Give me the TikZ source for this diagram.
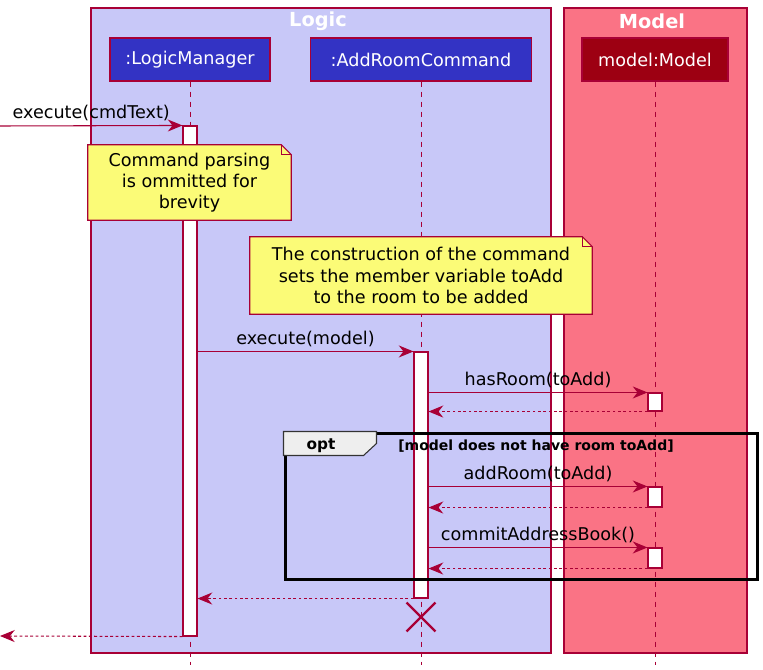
\documentclass[tikz,border=0pt]{standalone}
\usepackage{fontspec}
\setmainfont{DejaVu Sans}
\usetikzlibrary{positioning, arrows.meta, calc, shapes.misc}
\definecolor{bgLogic}{HTML}{C8C8F8}
\definecolor{bgModel}{HTML}{FA7385}
\definecolor{lineRed}{HTML}{A80036}
\definecolor{headBlue}{HTML}{3333C4}
\definecolor{headRed}{HTML}{9D0012}
\definecolor{noteYellow}{HTML}{FBFB77}
\definecolor{tabGray}{HTML}{EEEEEE}

\begin{document}
\begin{tikzpicture}[
    x=0.75pt, y=-0.75pt,
    font=\fontsize{13.2}{15.8}\selectfont,
    >={Stealth[length=11pt, width=9pt, inset=3.5pt]},
    groupBox/.style={draw=lineRed, line width=0.8pt},
    groupTitle/.style={text=white, font=\fontsize{14.5}{16}\selectfont\bfseries},
    head/.style={draw=lineRed, line width=0.8pt, text=white, minimum height=32.25pt, inner sep=0pt},
    lifeline/.style={draw=lineRed, line width=0.6pt, dash pattern=on 3.75pt off 3.75pt},
    actBox/.style={draw=lineRed, fill=white, line width=0.8pt, minimum width=10.5pt, inner sep=0pt},
    noteArea/.style={inner sep=0pt},
    noteLine/.style={draw=lineRed, fill=noteYellow, line width=0.8pt},
    noteText/.style={align=center, inner sep=0pt},
    msg/.style={->, draw=lineRed, line width=0.8pt},
    reply/.style={msg, dash pattern=on 2.2pt off 1.8pt},
    msgLabel/.style={above, inner sep=3pt}
]
\useasboundingbox (0,0) rectangle (763,670);

% groups
\node[groupBox, fill=bgLogic, minimum width=345pt, minimum height=483.75pt] (logic) at (321,330.5) {};
\node[groupBox, fill=bgModel, minimum width=137.25pt, minimum height=483.75pt] (model) at (655.5,330.5) {};
\node[groupTitle] (logicTitle) at (318,21) {Logic};
\node[groupTitle] (modelTitle) at (652,21) {Model};

% participants
\node[head, fill=headBlue, minimum width=120pt] (lm) at (190,59.5) {:LogicManager};
\node[head, fill=headBlue, minimum width=165.75pt] (arc) at (421,59.5) {:AddRoomCommand};
\node[head, fill=headRed, minimum width=109.5pt] (mdl) at (655,59.5) {model:Model};

\coordinate (bottom) at (0,665);
\draw[lifeline] (lm.south) -- (lm.south |- bottom);
\draw[lifeline] (arc.south) -- (arc.south |- bottom);
\draw[lifeline] (mdl.south) -- (mdl.south |- bottom);

% activations
\node[actBox, minimum height=382.5pt] (lmAct) at (190,381) {};
\node[actBox, minimum height=184.5pt] (arcAct) at (421,475) {};
\node[actBox, minimum height=13.5pt] (mAct1) at (655,402) {};
\node[actBox, minimum height=15pt] (mAct2) at (655,497) {};
\node[actBox, minimum height=15pt] (mAct3) at (655,558) {};

% notes
\node[noteArea, minimum width=152.25pt, minimum height=56.25pt] (note1) at (189.5,182.5) {};
\draw[noteLine] (note1.north west) -- ([xshift=-7.5pt]note1.north east) -- ([yshift=-7.5pt]note1.north east)
    -- (note1.south east) -- (note1.south west) -- cycle;
\draw[lineRed, line width=0.8pt] ([xshift=-7.5pt]note1.north east) |- ([yshift=-7.5pt]note1.north east);
\node[noteText] (note1Text) at (note1) {Command parsing\\is ommitted for\\brevity};

\node[noteArea, minimum width=256.5pt, minimum height=57.75pt] (note2) at (421,275.5) {};
\draw[noteLine] (note2.north west) -- ([xshift=-7.5pt]note2.north east) -- ([yshift=-7.5pt]note2.north east)
    -- (note2.south east) -- (note2.south west) -- cycle;
\draw[lineRed, line width=0.8pt] ([xshift=-7.5pt]note2.north east) |- ([yshift=-7.5pt]note2.north east);
\node[noteText] (note2Text) at (note2) {The construction of the command\\sets the member variable toAdd\\to the room to be added};

% messages
\coordinate (entry) at (0,126);
\coordinate (exit) at (0,636);
\draw[msg] (entry) -- (lmAct.north west) node[midway, msgLabel] {execute(cmdText)};
\draw[msg] (lmAct.east |- arcAct.north) -- (arcAct.north west) node[midway, msgLabel] {execute(model)};
\draw[msg] (arcAct.east |- mAct1.north) -- (mAct1.north west) node[midway, msgLabel] {hasRoom(toAdd)};
\draw[reply] (mAct1.south west) -- (arcAct.east |- mAct1.south);
\draw[msg] (arcAct.east |- mAct2.north) -- (mAct2.north west) node[midway, msgLabel] {addRoom(toAdd)};
\draw[reply] (mAct2.south west) -- (arcAct.east |- mAct2.south);
\draw[msg] (arcAct.east |- mAct3.north) -- (mAct3.north west) node[midway, msgLabel] {commitAddressBook()};
\draw[reply] (mAct3.south west) -- (arcAct.east |- mAct3.south);
\draw[reply] (arcAct.south west) -- (lmAct.east |- arcAct.south);
\draw[reply] (lmAct.south west) -- (exit);

\node[cross out, draw=lineRed, line width=1.7pt, minimum size=20pt, inner sep=0pt] (kill) at (421,617) {};

% opt fragment
\node[draw=black, line width=2.25pt, minimum width=354pt, minimum height=109.5pt] (optFrame) at (521,506) {};
\filldraw[fill=tabGray, draw=black!80, line width=0.8pt] (optFrame.north west) -- ++(93,0) -- ++(0,12) -- ++(-13,12) -- ++(-80,0) -- cycle;
\node[font=\fontsize{11.5}{13}\selectfont\bfseries] (optLabel) at (321,446) {opt};
\node[font=\fontsize{10.5}{12}\selectfont\bfseries] (guard) at (536,446) {[model does not have room toAdd]};

\end{tikzpicture}
\end{document}
